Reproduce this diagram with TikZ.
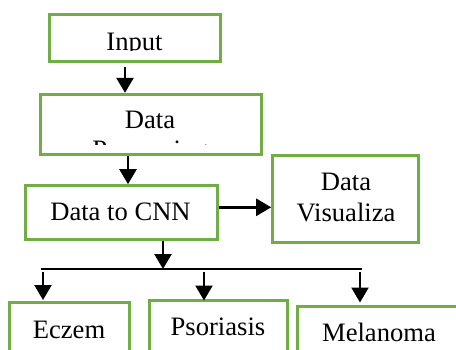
\documentclass[tikz,border=0pt]{standalone}
\usepackage{fontspec}
\setmainfont{Liberation Serif}
\usetikzlibrary{arrows.meta, positioning, fit}
\definecolor{boxgreen}{RGB}{112,173,71}
\tikzset{
  flowbox/.style={rectangle, draw=boxgreen, line width=1.5pt, inner sep=0pt},
  flowtext/.style={anchor=base, align=center, inner sep=0pt,
                   font=\fontsize{13.3}{15.25}\selectfont},
  flowarrow/.style={-{Triangle[width=8.5pt,length=7.5pt]}, line width=1.2pt, black},
  busline/.style={line width=0.7pt, black},
}

\begin{document}
\begin{tikzpicture}[x=0.5pt, y=-0.5pt]
    \clip (0,0) rectangle (456,349);
    % Kotak proses
    \node[flowbox, fit={(49,14.3) (220,61)}] (input) {};
    \node[flowbox, fit={(40.7,94.3) (261.7,154)}] (prep) {};
    \node[flowbox, fit={(25,185.7) (217,239.3)}] (cnn) {};
    \node[flowbox, fit={(272.7,155) (418,242.7)}] (vis) {};
    \node[flowbox, fit={(9,302.7) (129,370)}] (eczem) {};
    \node[flowbox, fit={(149,300) (287,370)}] (psor) {};
    \node[flowbox, fit={(297,306.7) (480,370)}] (mela) {};
    % Teks (terpotong oleh kotak)
    \begin{scope}
      \clip (input.north west) rectangle (input.east |- 0,50.5);
      \node[flowtext] (inputtxt) at (134.5,50) {Input};
    \end{scope}
    \begin{scope}
      \clip (prep.north west) rectangle (prep.east |- 0,144.5);
      \node[flowtext] (preptxt) at (150,158.8) {Data\\Processing};
    \end{scope}
    \node[flowtext] (cnntxt) at (120.5,220.7) {Data to CNN};
    \node[flowtext] (vistxt) at (346,221) {Data\\Visualiza};
    \node[flowtext] (eczemtxt) at (69,338) {Eczem};
    \node[flowtext] (psortxt) at (218,335.7) {Psoriasis};
    \node[flowtext] (melatxt) at (379,341.7) {Melanoma};
    % Alur
    \draw[flowarrow, shorten <=2pt] (input.south -| 125,0) -- (prep.north -| 125,0);
    \draw[flowarrow] (prep.south -| 128,0) -- (cnn.north -| 128,0);
    \draw[flowarrow] (cnn.east |- 0,207.3) -- (vis.west |- 0,207.3);
    % Percabangan ke kelas
    \coordinate (busl) at (40.7,269);
    \coordinate (busr) at (361.7,269);
    \draw[busline] (busl) -- (busr);
    \draw[flowarrow] (cnn.south -| 163,0) -- (busl -| 163,0);
    \draw[flowarrow, shorten <=1.5pt] (busl -| 43,0) -- (43,300);
    \draw[flowarrow, shorten <=1.5pt] (busl -| 204,0) -- (204,300.5);
    \draw[flowarrow, shorten <=1.5pt] (busl -| 360,0) -- (360,302.5);
\end{tikzpicture}
\end{document}
